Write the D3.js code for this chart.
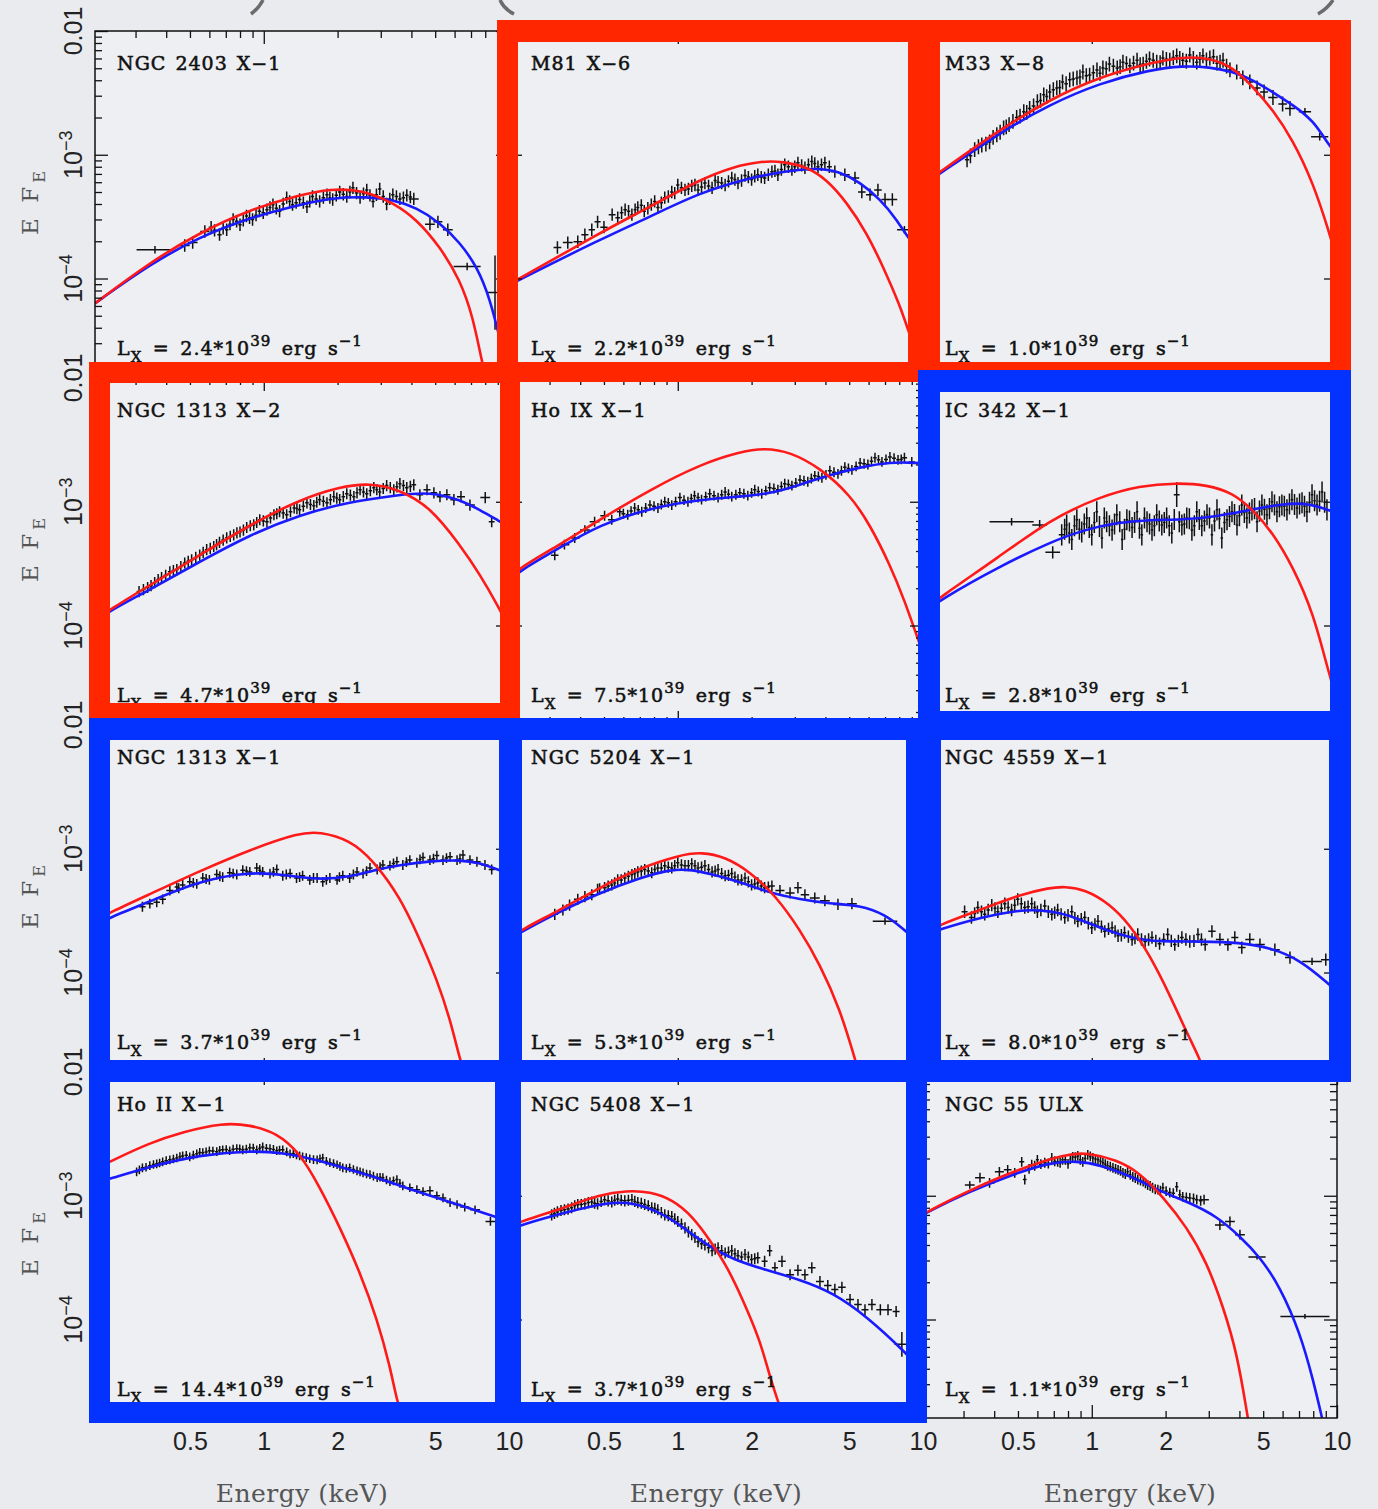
<!DOCTYPE html>
<html>
<head>
<meta charset="utf-8">
<script src="https://cdn.jsdelivr.net/npm/d3@7"></script>
<style>
  html, body { margin: 0; padding: 0; background: #e9ebee; }
  svg { display: block; }
</style>
</head>
<body>
<div id="chart"></div>
<script>
// Energy in keV, E F_E in units of 1e-4.
// data points: [E, F] or [E, F, xErrDex, yErrDex]

const panelNames = ['NGC 2403 X−1', 'M81 X−6', 'M33 X−8',
  'NGC 1313 X−2', 'Ho IX X−1', 'IC 342 X−1',
  'NGC 1313 X−1', 'NGC 5204 X−1', 'NGC 4559 X−1',
  'Ho II X−1', 'NGC 5408 X−1', 'NGC 55 ULX']
const luminosities = ['2.4', '2.2', '1.0', '4.7', '7.5', '2.8', '3.7', '5.3', '8.0', '14.4', '3.7', '1.1']

const xTickLabels = [0.5, 1, 2, 5, 10]
const xMajor = [1, 10]
const xMinor = [0.3, 0.4, 0.5, 0.6, 0.7, 0.8, 0.9, 2, 3, 4, 5, 6, 7, 8, 9]
const yMajor = [1e-4, 1e-3, 1e-2]

// ---- NGC 2403 X-1
const n2403Red = [[0.205,0.63],[0.343,1.35],[0.548,2.35],[0.877,3.6],[1.40,4.75],[1.91,5.3],[2.31,5.2],[2.71,4.9],[3.36,4.1],[4.21,3.0],[5.22,1.81],[6.31,0.98],[7.13,0.49],[7.76,0.21],[8.05,0.16]]
const n2403Blue = [[0.205,0.63],[0.343,1.30],[0.548,2.18],[0.877,3.1],[1.40,3.95],[1.91,4.5],[2.63,4.58],[3.36,4.33],[4.21,3.73],[5.22,2.83],[6.31,1.95],[7.40,1.25],[8.38,0.68],[9.2,0.32],[10,0.16]]
const n2403Data = [[0.36,1.71,0.075,0.03],[0.476,1.85],[0.513,1.95],[0.575,2.4],[0.61,2.6],[0.66,2.26],[0.706,2.48],[0.75,3.0],[0.80,2.72],[0.85,3.2],[0.90,3.0],[0.96,3.5],[1.03,3.6],[1.09,3.95],[1.16,3.5],[1.24,4.5],[1.31,3.95],[1.40,4.35],[1.50,3.8],[1.58,4.6],[1.69,4.2],[1.81,4.76],[1.91,4.35],[2.04,5.0],[2.18,4.6],[2.31,5.4],[2.47,4.5],[2.63,5.2],[2.79,4.2],[2.97,5.3],[3.17,4.0],[3.36,4.76],[3.59,4.4],[3.83,4.7],[4.09,4.4],[4.76,2.75],[5.13,2.87],[5.63,2.48],[6.75,1.25,0.055,0.03],[8.77,0.77,0.03,0.3],
  [0.63,2.45],[0.683,2.55],[0.728,2.75],[0.775,2.9],[0.825,2.95],[0.875,3.1],[0.93,3.25],[0.995,3.4],[1.06,3.75],[1.125,3.7],[1.2,4.0],[1.275,4.2],[1.355,4.1],[1.45,4.1],[1.54,4.2],[1.635,4.4],[1.75,4.5],[1.86,4.5],[1.975,4.7],[2.11,4.8],[2.245,5.0],[2.39,4.9],[2.55,4.85],[2.71,4.7],[2.88,4.75],[3.07,4.6],[3.265,4.4],[3.475,4.6],[3.71,4.5],[3.96,4.55]]

// ---- M81 X-6
const m81Red = [[0.205,0.90],[0.222,0.98],[0.48,2.33],[0.77,3.8],[1.23,6.3],[1.68,8.0],[2.22,8.9],[2.68,8.8],[3.36,8.0],[4.05,6.3],[4.9,4.1],[5.9,2.33],[6.87,1.25],[8.06,0.6],[8.6,0.41],[10,0.17]]
const m81Blue = [[0.205,0.88],[0.222,0.96],[0.48,2.06],[0.77,3.15],[1.23,4.95],[1.97,6.5],[2.68,7.3],[3.69,7.85],[4.58,7.3],[5.54,6.0],[6.7,4.35],[7.8,3.0],[8.6,2.2],[10,1.5]]
const m81Data = [[0.323,1.78],[0.356,1.95],[0.391,1.98],[0.418,2.26],[0.446,2.48],[0.471,2.87],[0.50,2.6],[0.54,3.28],[0.569,3.1],[0.61,3.6],[0.65,3.28],[0.687,3.75],[0.73,3.5],[0.78,3.95],[0.83,3.75],[0.885,4.5],[0.945,5.0],[1.0,5.7],[1.07,5.2],[1.14,5.6],[1.21,5.2],[1.29,5.9],[1.38,5.4],[1.46,6.0],[1.56,5.7],[1.66,6.5],[1.76,5.9],[1.88,6.8],[2.0,6.3],[2.12,6.9],[2.26,6.5],[2.42,7.3],[2.56,6.9],[2.73,8.3],[2.92,7.6],[3.09,8.6],[3.3,7.85],[3.52,8.8],[3.73,8.0],[3.98,8.6],[4.37,7.3],[4.8,6.9],[5.28,6.5],[5.63,5.0],[6.08,4.76],[6.55,5.2],[7.0,4.35],[7.5,4.35],[8.4,2.48,0.03,0.03],
  [0.59,3.4],[0.63,3.5],[0.67,3.6],[0.71,3.9],[0.755,3.7],[0.805,4.2],[0.857,4.1],[0.915,4.6],[0.972,4.9],[1.035,5.4],[1.105,5.3],[1.175,5.7],[1.25,5.5],[1.335,5.6],[1.42,6.2],[1.51,5.9],[1.61,6.1],[1.71,6.3],[1.82,6.2],[1.94,6.6],[2.06,6.7],[2.19,6.6],[2.34,6.9],[2.49,7.4],[2.645,7.6],[2.825,8.0],[3.0,8.0],[3.2,8.2],[3.41,8.3],[3.62,8.5],[3.855,8.3],[4.15,8.0]]

// ---- M33 X-8
const m33Red = [[0.205,5.8],[0.239,7.2],[0.42,15.9],[0.674,28],[1.08,42.6],[1.72,55],[2.35,62],[3.03,60.5],[3.76,51],[4.54,35.5],[5.48,23],[6.6,13.2],[8.0,5.9],[9.3,2.35],[10,1.4]]
const m33Blue = [[0.205,5.7],[0.239,7.0],[0.42,15],[0.674,25.5],[1.08,38],[1.72,48.5],[2.35,52.5],[3.03,51],[3.76,47],[4.54,40.3],[5.48,32],[6.6,25.3],[8.0,19],[9.3,11.8],[10,10]]
const m33Data = [[0.31,9.1],[0.333,11],[0.356,12],[0.383,12.7],[0.41,14.5],[0.437,16.5],[0.46,17.5],[0.494,20],[0.528,22.3],[0.558,23.7],[0.60,26.8],[0.637,30.5],[0.674,32.2],[0.72,34.7],[0.76,38.8],[0.813,40.3],[0.87,41.8],[0.92,46.6],[0.98,44],[1.05,48.5],[1.11,50.3],[1.18,54],[1.27,50.3],[1.34,56],[1.43,52.3],[1.53,58],[1.62,54],[1.72,59.4],[1.84,56],[1.95,60.5],[2.08,58],[2.22,63],[2.35,58],[2.51,64],[2.68,56],[2.84,63],[3.03,60.5],[3.24,55],[3.43,58],[3.66,48.5],[3.9,46.6],[4.13,41.8],[4.41,38.8],[4.72,34.7],[5.04,32.2],[5.48,29],[6.0,25.7],[6.43,23.7],[7.4,22.3,0.025,0.03],[8.5,14,0.035,0.03],
  [0.32,9.8],[0.345,11.6],[0.37,12.2],[0.396,13.8],[0.423,15.2],[0.448,16.8],[0.477,18.6],[0.51,20.5],[0.543,22.0],[0.579,24.8],[0.618,27.5],[0.655,29.5],[0.697,33.5],[0.74,35.0],[0.786,37.5],[0.84,41.0],[0.895,42.5],[0.95,43.5],[1.015,46],[1.08,45.5],[1.145,49.5],[1.225,52],[1.305,51.5],[1.385,54.5],[1.48,55],[1.575,53.5],[1.67,57],[1.78,58],[1.9,55.5],[2.015,59],[2.15,61],[2.285,60],[2.43,57],[2.595,60],[2.76,59],[2.935,58.5],[3.135,62],[3.335,56],[3.545,52]]

// ---- NGC 1313 X-2
const n1313x2Red = [[0.205,1.1],[0.235,1.34],[0.343,2.12],[0.548,3.7],[0.877,6.5],[1.40,10.4],[2.04,13.2],[2.71,14.2],[3.59,12.5],[4.76,9.1],[6.3,4.5],[7.6,2.6],[9.2,1.34],[10,0.95]]
const n1313x2Blue = [[0.205,1.08],[0.235,1.31],[0.343,1.95],[0.548,3.28],[0.877,5.4],[1.40,7.85],[2.24,10],[3.59,11.4],[4.76,12],[6.3,10.4],[7.6,8.6],[9.2,6.9],[10,6.3]]
const n1313x2Data = [[0.31,1.88],[0.336,2.03],[0.359,2.22],[0.383,2.44],[0.414,2.72],[0.442,2.83],[0.476,3.2],[0.508,3.4],[0.548,3.7],[0.585,4.1],[0.625,4.35],[0.66,4.7],[0.706,5.1],[0.754,5.4],[0.80,5.7],[0.852,6.2],[0.91,6.5],[0.963,7.15],[1.03,6.9],[1.10,7.85],[1.16,8.3],[1.24,7.85],[1.33,8.9],[1.40,8.6],[1.50,9.8],[1.60,9.3],[1.69,10.4],[1.81,9.8],[1.93,11],[2.04,10.4],[2.18,11.6],[2.33,11],[2.47,12.5],[2.63,11.6],[2.81,13],[2.97,12],[3.17,13.5],[3.39,12.5],[3.59,14],[3.83,13],[4.09,13.7],[4.33,11.4],[4.63,12.5],[4.94,11.8],[5.23,11],[5.58,11.4],[5.96,10.4],[6.37,11],[6.93,9.4],[8.0,10.8],[8.5,6.9],
  [0.323,1.95],[0.347,2.1],[0.371,2.35],[0.398,2.55],[0.428,2.78],[0.459,3.0],[0.492,3.3],[0.528,3.55],[0.566,3.9],[0.605,4.2],[0.642,4.5],[0.683,4.9],[0.73,5.25],[0.777,5.6],[0.826,5.9],[0.881,6.4],[0.936,6.8],[0.996,7.0],[1.065,7.4],[1.13,8.0],[1.2,8.1],[1.285,8.3],[1.365,8.8],[1.45,9.2],[1.55,9.5],[1.645,9.9],[1.75,10.1],[1.87,10.4],[1.985,10.7],[2.11,11.0],[2.255,11.3],[2.4,11.8],[2.55,12.0],[2.72,12.3],[2.89,12.5],[3.07,12.8],[3.28,13.0],[3.49,13.2],[3.71,13.5],[3.96,13.3]]

// ---- Ho IX X-1
const hoixRed = [[0.205,2.4],[0.228,2.95],[0.33,4.5],[0.48,7.15],[0.77,12.5],[1.23,20],[1.79,25.3],[2.26,27.2],[2.87,25.3],[3.80,18.8],[5.04,11.4],[6.08,6.5],[7.33,3.1],[8.4,1.6],[9.55,0.77],[10,0.6]]
const hoixBlue = [[0.205,2.3],[0.228,2.78],[0.33,4.25],[0.48,6.5],[0.77,8.9],[1.23,10.4],[1.79,11],[2.37,11.6],[3.15,13.7],[4.17,16.5],[5.54,19],[7.33,21],[9.55,20.6],[10,20.3]]
const hoixData = [[0.315,3.7],[0.345,4.5],[0.38,5.1],[0.418,5.9],[0.458,6.9],[0.503,7.7],[0.538,7.15],[0.58,8.3],[0.625,7.85],[0.667,8.9],[0.713,8.3],[0.77,9.4],[0.83,8.9],[0.885,10],[0.945,9.4],[1.02,10.8],[1.10,10],[1.17,11.2],[1.25,10.4],[1.35,11.6],[1.46,10.8],[1.56,12],[1.66,11],[1.79,11.8],[1.93,11.2],[2.06,12.5],[2.2,11.6],[2.37,13],[2.56,12.5],[2.73,14],[2.92,13.5],[3.15,15],[3.39,14.5],[3.62,16.2],[3.87,15.6],[4.17,17.8],[4.5,16.8],[4.8,19],[5.13,18.1],[5.54,20.6],[5.96,20],[6.37,22.7],[6.8,21],[7.33,23],[7.91,21.8],[8.4,22.7],[9.0,21],
  [0.6,8.0],[0.645,8.4],[0.69,8.6],[0.74,8.9],[0.8,9.2],[0.857,9.5],[0.915,9.8],[0.98,10.0],[1.06,10.3],[1.135,10.6],[1.21,10.8],[1.3,11.0],[1.405,11.2],[1.51,11.4],[1.61,11.5],[1.725,11.4],[1.86,11.6],[2.0,11.8],[2.13,12.1],[2.285,12.3],[2.465,12.8],[2.645,13.3],[2.825,13.8],[3.03,14.2],[3.27,14.8],[3.505,15.4],[3.745,16.0],[4.02,16.5],[4.335,17.3],[4.65,17.8],[4.965,18.6],[5.335,19.3],[5.75,20.3],[6.165,21.2],[6.585,21.8],[7.065,22.0],[7.62,22.5],[8.15,22.0]]

// ---- IC 342 X-1
const ic342Red = [[0.205,1.3],[0.239,1.68],[0.42,3.6],[0.674,7.15],[1.08,11],[1.57,13.5],[2.22,14.2],[2.95,13.7],[3.76,11.8],[4.54,8.6],[5.48,5.6],[6.6,3.0],[8.0,1.27],[9.2,0.43],[10,0.25]]
const ic342Blue = [[0.205,1.25],[0.239,1.6],[0.42,3.0],[0.674,4.7],[0.92,5.9],[1.27,6.8],[1.72,7.15],[2.35,7.15],[3.24,7.6],[4.41,8.6],[6.0,9.6],[7.54,9.8],[9.2,8.6],[10,8.0]]
const ic342Data = [[0.471,6.9,0.09,0.03],[0.613,6.5,0.03,0.04],[0.693,3.9,0.03,0.05],[0.754,5.4],[0.79,6.5],[0.829,4.95],[0.869,7.15],[0.91,5.7],[0.954,7.4],[1.0,5.4],[1.048,8.3],[1.10,5.1],[1.15,6.9],[1.21,5.9],[1.265,7.85],[1.33,4.95],[1.39,7.15],[1.46,6.2],[1.53,8.3],[1.60,5.4],[1.68,6.9],[1.76,5.9],[1.84,7.85],[1.93,6.5],[2.02,7.4],[2.12,5.6],[2.22,11.4,0.012,0.1],[2.33,6.5],[2.44,7.4],[2.56,5.9],[2.68,8.3],[2.81,6.4],[2.95,7.85],[3.09,5.4],[3.24,8.6],[3.39,5.1],[3.56,7.15],[3.73,8.3],[3.91,6.5],[4.09,9.4],[4.29,7.4],[4.5,8.6],[4.72,6.9],[4.94,9.4],[5.18,7.85],[5.43,10],[5.69,8.3],[5.96,9.4],[6.25,8.6],[6.55,10.4],[6.87,8.9],[7.2,9.8],[7.54,8.3],[7.91,11.4],[8.29,9.4],[8.69,12],[9.1,8.6],
  [0.775,6.0],[0.81,5.6],[0.85,6.4],[0.89,6.0],[0.932,6.6],[0.977,6.2],[1.024,6.8],[1.075,6.3],[1.125,7.4],[1.18,6.4],[1.238,6.6],[1.3,6.9],[1.36,6.0],[1.425,7.0],[1.495,6.8],[1.565,6.1],[1.64,7.4],[1.72,6.6],[1.8,6.4],[1.885,7.0],[1.975,6.8],[2.07,6.4],[2.17,7.2],[2.275,6.9],[2.385,6.6],[2.5,7.3],[2.62,6.4],[2.745,7.2],[2.88,7.0],[3.02,7.4],[3.165,7.0],[3.315,7.3],[3.475,6.8],[3.645,7.6],[3.82,7.9],[4.0,7.7],[4.19,8.2],[4.395,8.1],[4.61,8.8],[4.83,8.4],[5.06,8.7],[5.305,8.8],[5.56,9.4],[5.825,9.1],[6.1,9.2],[6.4,9.6],[6.71,9.5],[7.035,9.6],[7.37,9.2],[7.725,9.9],[8.1,10.2],[8.49,10.1],[8.9,9.9]]

// ---- NGC 1313 X-1
const n1313x1Red = [[0.205,2.6],[0.235,3.05],[0.343,4.3],[0.548,6.6],[0.877,9.8],[1.40,13.5],[1.69,13.7],[2.24,11.8],[2.79,8.1],[3.59,4.1],[4.33,1.85],[5.08,0.88],[5.75,0.42],[6.3,0.2],[6.6,0.15]]
const n1313x1Blue = [[0.205,2.4],[0.235,2.78],[0.343,3.75],[0.548,5.5],[0.877,6.5],[1.195,6.2],[1.65,5.6],[2.24,5.9],[2.9,6.8],[3.59,7.4],[4.9,8.0],[6.3,8.1],[7.6,7.7],[8.6,7.0],[10,6.3]]
const n1313x1Data = [[0.32,3.4],[0.343,3.6],[0.366,3.7],[0.387,3.9],[0.414,4.6],[0.442,4.9],[0.467,5.1],[0.499,5.4],[0.533,5.2],[0.564,5.8],[0.60,5.6],[0.643,6.2],[0.68,5.9],[0.726,6.4],[0.776,6.2],[0.821,6.7],[0.877,6.5],[0.936,7.0],[0.99,6.5],[1.06,6.3],[1.13,6.8],[1.195,6.05],[1.28,6.3],[1.36,5.8],[1.44,6.05],[1.54,5.6],[1.65,5.8],[1.74,5.4],[1.86,5.8],[1.99,5.6],[2.10,6.05],[2.24,5.8],[2.4,6.5],[2.54,6.3],[2.71,7.0],[2.9,6.8],[3.06,7.4],[3.27,7.3],[3.49,7.85],[3.69,7.4],[3.94,8.1],[4.21,7.7],[4.46,8.5],[4.76,8.1],[5.08,8.8],[5.38,8.1],[5.75,8.6],[6.14,8.1],[6.49,8.9],[6.93,8.1],[7.4,7.85],[7.98,7.4],[8.5,6.8],
  [0.45,4.8],[0.516,5.3],[0.582,5.7],[0.662,6.0],[0.75,6.3],[0.85,6.6],[0.963,6.7],[1.095,6.5],[1.235,6.2],[1.4,5.9],[1.595,5.8],[1.8,5.6],[2.035,5.9],[2.32,6.2],[2.625,6.6],[2.98,7.1],[3.38,7.6],[3.815,7.8],[4.335,8.2],[4.92,8.3],[5.56,8.4],[6.31,8.3]]

// ---- NGC 5204 X-1
const n5204Red = [[0.205,1.9],[0.231,2.22],[0.33,3.2],[0.48,4.85],[0.70,7.0],[1.02,8.9],[1.25,9.4],[1.56,8.6],[1.97,6.5],[2.49,4.25],[3.15,2.22],[3.80,1.16],[4.58,0.51],[5.28,0.2],[5.5,0.15]]
const n5204Blue = [[0.205,1.85],[0.231,2.14],[0.33,3.1],[0.48,4.4],[0.70,5.8],[0.928,6.8],[1.12,6.8],[1.35,6.3],[1.79,5.4],[2.37,4.4],[3.15,3.9],[4.17,3.6],[5.54,3.5],[7.0,2.95],[8.4,2.22],[10,1.6]]
const n5204Data = [[0.315,2.95],[0.34,3.2],[0.362,3.5],[0.391,3.9],[0.418,4.1],[0.446,4.25],[0.471,4.7],[0.503,4.85],[0.538,5.1],[0.569,5.6],[0.608,5.8],[0.65,6.2],[0.687,6.5],[0.733,6.8],[0.783,6.4],[0.829,7.0],[0.885,7.3],[0.945,7.0],[1.0,7.7],[1.07,7.3],[1.14,7.55],[1.21,7.0],[1.29,7.3],[1.38,6.5],[1.46,6.8],[1.56,6.05],[1.66,6.3],[1.76,5.6],[1.88,5.8],[2.0,5.1],[2.12,5.3],[2.26,4.85],[2.42,5.0],[2.61,4.6],[2.87,4.4],[3.09,4.85],[3.3,4.25],[3.62,4.0],[3.98,3.8],[4.5,3.55],[5.13,3.6],[7.0,2.6,0.05,0.03],
  [0.48,4.75],[0.52,5.0],[0.553,5.3],[0.588,5.6],[0.629,6.0],[0.668,6.3],[0.71,6.6],[0.758,6.6],[0.806,6.8],[0.857,7.0],[0.915,7.1],[0.972,7.3],[1.035,7.4],[1.105,7.3],[1.175,7.3],[1.25,7.1],[1.335,6.8],[1.42,6.6],[1.51,6.3],[1.61,6.1],[1.71,5.9],[1.82,5.6],[1.94,5.4],[2.06,5.2],[2.19,5.0],[2.34,4.9]]

// ---- NGC 4559 X-1
const n4559Red = [[0.205,2.05],[0.239,2.43],[0.35,3.2],[0.508,4.25],[0.674,4.85],[0.776,4.95],[0.936,4.7],[1.18,3.6],[1.43,2.43],[1.72,1.39],[2.08,0.66],[2.4,0.35],[2.76,0.2],[2.9,0.15]]
const n4559Blue = [[0.205,2.0],[0.239,2.22],[0.35,2.78],[0.508,3.2],[0.613,3.2],[0.74,3.05],[0.894,2.68],[1.08,2.3],[1.30,2.03],[1.57,1.85],[1.89,1.78],[2.76,1.78],[4.02,1.75],[5.33,1.59],[7.07,1.27],[9.3,0.8],[10,0.7]]
const n4559Data = [[0.303,3.1],[0.323,2.78],[0.343,3.35],[0.366,2.95],[0.391,3.5],[0.414,3.1],[0.442,3.6],[0.471,3.2],[0.499,3.9],[0.533,3.35],[0.569,3.6],[0.60,3.1],[0.643,3.45],[0.687,2.95],[0.726,3.2],[0.776,2.78],[0.829,3.1],[0.877,2.6],[0.936,2.78],[1.0,2.3],[1.06,2.6],[1.13,2.15],[1.21,2.3],[1.28,1.98],[1.36,2.1],[1.46,1.85],[1.54,2.03],[1.65,1.78],[1.76,1.92],[1.89,1.71],[2.04,2.03],[2.18,1.68],[2.33,1.92],[2.51,1.78],[2.71,2.03],[2.9,1.68],[3.09,2.15],[3.33,1.85],[3.59,1.68],[3.83,1.92],[4.09,1.59],[4.41,1.85],[4.85,1.68],[5.58,1.53],[6.43,1.32],[7.91,1.23,0.04,0.03],[9.0,1.27],
  [0.333,3.0],[0.355,3.1],[0.378,3.2],[0.403,3.3],[0.428,3.3],[0.456,3.35],[0.485,3.5],[0.516,3.6],[0.55,3.4],[0.585,3.35],[0.62,3.2],[0.665,3.1],[0.706,3.05],[0.75,2.95],[0.8,2.9],[0.853,2.75],[0.906,2.7],[0.968,2.5],[1.03,2.45],[1.095,2.35],[1.17,2.25],[1.245,2.15],[1.32,2.0],[1.41,1.95],[1.5,1.9],[1.595,1.85],[1.705,1.85],[1.825,1.8],[1.965,1.85],[2.11,1.8],[2.255,1.8],[2.42,1.85],[2.61,1.8],[2.8,1.85]]

// ---- Ho II X-1
const hoiiRed = [[0.205,16.5],[0.235,18.8],[0.343,26.8],[0.467,32.8],[0.68,38.8],[0.877,37.4],[1.13,32.2],[1.40,22.3],[1.69,11.8],[2.04,5.6],[2.47,2.4],[2.9,1.0],[3.27,0.42],[3.49,0.22],[3.69,0.16]]
const hoiiBlue = [[0.205,12.7],[0.235,13.7],[0.343,17.2],[0.548,21.4],[0.877,23.1],[1.195,22.3],[1.65,19.5],[2.24,16.2],[3.06,13.5],[4.21,10.8],[5.75,8.9],[8.77,6.8],[10,6.2]]
const hoiiData = [[0.303,15.6],[0.32,16.8],[0.343,17.5],[0.366,18.1],[0.387,18.8],[0.414,19.5],[0.442,20.2],[0.467,21.0],[0.499,20.6],[0.533,21.8],[0.564,22.3],[0.60,23.1],[0.643,22.7],[0.68,23.5],[0.726,23.1],[0.776,24.0],[0.821,23.5],[0.877,24.4],[0.936,23.5],[0.99,24.8],[1.06,24.0],[1.13,23.1],[1.195,23.5],[1.28,21.8],[1.36,21.4],[1.44,20.6],[1.54,19.9],[1.65,19.5],[1.74,20.2],[1.86,18.5],[1.99,17.8],[2.10,16.8],[2.24,16.8],[2.4,15.9],[2.54,15.3],[2.71,14.8],[2.9,14.0],[3.06,14.0],[3.27,13.0],[3.49,13.5],[3.69,12.0],[3.94,11.6],[4.21,11.2],[4.46,10.8],[4.76,11.0],[5.08,10],[5.38,9.6],[5.75,8.8],[6.14,8.5],[6.6,8.1],[7.27,7.7],[8.4,6.2],
  [0.311,16.2],[0.331,17.0],[0.355,17.9],[0.376,18.4],[0.40,19.2],[0.428,19.8],[0.455,20.7],[0.483,21.2],[0.516,21.3],[0.548,22.4],[0.582,22.6],[0.62,23.0],[0.661,23.3],[0.703,23.6],[0.75,23.8],[0.798,23.9],[0.849,23.8],[0.906,24.3],[0.963,24.2],[1.025,24.2],[1.095,23.7],[1.16,23.4],[1.24,22.6],[1.32,21.9],[1.40,21.0],[1.49,20.3],[1.595,19.6],[1.695,19.9],[1.80,19.0],[1.925,18.2],[2.045,17.3],[2.17,16.6],[2.32,16.3],[2.47,15.6],[2.625,15.0],[2.8,14.4],[2.98,14.1],[3.165,13.4],[3.38,13.2],[3.59,12.6]]

// ---- NGC 5408 X-1
const n5408Red = [[0.205,5.6],[0.228,6.2],[0.352,8.1],[0.48,10.2],[0.619,11],[0.77,10.8],[0.954,9.3],[1.15,6.8],[1.35,4.4],[1.59,2.68],[1.84,1.45],[2.16,0.69],[2.37,0.35],[2.56,0.22],[2.7,0.16]]
const n5408Blue = [[0.205,5.3],[0.228,5.8],[0.352,7.4],[0.528,8.9],[0.655,8.8],[0.844,7.4],[1.048,5.6],[1.31,4.0],[1.68,3.05],[2.31,2.5],[3.15,2.1],[4.29,1.65],[5.9,1.06],[8.5,0.54],[10,0.38]]
const n5408Data = [[0.306,7.0],[0.323,7.4],[0.345,7.7],[0.369,8.0],[0.391,8.5],[0.418,8.6],[0.446,8.9],[0.471,8.6],[0.503,9.3],[0.538,8.9],[0.569,9.4],[0.608,9.1],[0.65,9.3],[0.687,8.8],[0.733,8.5],[0.783,8.0],[0.829,7.7],[0.885,7.0],[0.945,6.8],[1.0,6.2],[1.07,5.5],[1.14,4.85],[1.21,4.25],[1.29,4.0],[1.38,3.6],[1.46,3.8],[1.56,3.45],[1.66,3.6],[1.76,3.28],[1.88,3.35],[2.0,3.05],[2.12,3.15],[2.26,2.95],[2.37,3.6],[2.49,2.62],[2.66,2.95],[2.87,2.3],[3.09,2.5],[3.3,2.3],[3.52,2.62],[3.8,2.03],[4.09,1.88],[4.37,1.75],[4.67,1.82],[5.04,1.45],[5.43,1.32],[5.8,1.2],[6.19,1.32],[6.7,1.2],[7.2,1.2],[7.77,1.16],[8.2,0.63,0.03,0.1],
  [0.314,7.2],[0.334,7.6],[0.357,7.8],[0.38,8.3],[0.404,8.5],[0.432,8.8],[0.458,8.7],[0.487,9.0],[0.52,9.1],[0.553,9.2],[0.588,9.2],[0.629,9.2],[0.668,9.0],[0.71,8.7],[0.758,8.3],[0.806,7.9],[0.857,7.3],[0.915,6.9],[0.972,6.5],[1.035,5.9],[1.105,5.1],[1.175,4.6],[1.25,4.1],[1.335,3.8],[1.42,3.7],[1.51,3.6],[1.61,3.5],[1.71,3.4],[1.82,3.2],[1.94,3.2],[2.06,3.1]]

// ---- NGC 55 ULX
const n55Red = [[0.205,7.0],[0.212,7.4],[0.309,10.8],[0.494,16.2],[0.79,21.8],[0.954,22.3],[1.265,19.5],[1.57,15.3],[1.95,9.8],[2.44,5.6],[2.95,2.87],[3.43,1.27],[3.91,0.54],[4.33,0.16]]
const n55Blue = [[0.205,7.0],[0.212,7.3],[0.309,10.6],[0.494,15.3],[0.674,18.5],[0.869,19.1],[1.08,17.8],[1.47,14.2],[1.95,10.6],[2.51,8.8],[3.24,6.8],[4.02,4.7],[4.85,3.2],[5.85,1.85],[7.07,0.78],[7.98,0.33],[8.69,0.16]]
const n55Data = [[0.318,12.2,0.02,0.03],[0.35,14.0],[0.383,12.7],[0.42,15.6],[0.454,16.2],[0.485,15.3],[0.518,18.8],[0.533,13.5],[0.569,17.8],[0.60,19.5],[0.643,18.5],[0.687,20.2],[0.726,18.8],[0.76,19.5],[0.80,18.1],[0.836,20.6],[0.877,21.0],[0.919,18.8],[0.963,21.4],[1.01,20.2],[1.06,19.5],[1.11,18.5],[1.16,17.5],[1.22,16.8],[1.28,16.2],[1.34,15.3],[1.40,15.6],[1.47,14.2],[1.54,13.5],[1.62,13.0],[1.69,12.2],[1.77,11.6],[1.86,11.2],[1.95,11.6],[2.08,10.6],[2.22,11.8],[2.35,9.8],[2.51,9.6],[2.68,9.3],[2.87,9.3],[3.33,5.8],[3.66,6.2],[4.02,4.85],[4.72,3.2,0.035,0.02],[7.4,1.06,0.1,0.02],
  [0.555,16.5],[0.585,17.5],[0.62,18.0],[0.665,18.2],[0.706,19.0],[0.743,18.5],[0.78,19.5],[0.818,19.8],[0.857,20.5],[0.898,19.5],[0.94,20.0],[0.986,20.8],[1.035,19.8],[1.085,19.0],[1.135,18.0],[1.19,17.2],[1.25,16.5],[1.31,15.9],[1.37,15.0],[1.435,14.8],[1.505,13.9],[1.58,13.3],[1.655,12.6],[1.73,12.0],[1.815,11.3],[1.905,11.0],[2.01,10.9],[2.15,10.5],[2.285,10.2],[2.43,9.7],[2.6,9.5],[2.78,9.1]]

const reds = [n2403Red, m81Red, m33Red, n1313x2Red, hoixRed, ic342Red, n1313x1Red, n5204Red, n4559Red, hoiiRed, n5408Red, n55Red]
const blues = [n2403Blue, m81Blue, m33Blue, n1313x2Blue, hoixBlue, ic342Blue, n1313x1Blue, n5204Blue, n4559Blue, hoiiBlue, n5408Blue, n55Blue]
const spectra = [n2403Data, m81Data, m33Data, n1313x2Data, hoixData, ic342Data, n1313x1Data, n5204Data, n4559Data, hoiiData, n5408Data, n55Data]
const yErrDefault = [0.05, 0.05, 0.06, 0.045, 0.04, 0.085, 0.04, 0.045, 0.05, 0.035, 0.045, 0.04]

// layout
const W = 1378, H = 1509
const colX = [95, 509, 923]
const rowY = [31, 378, 725, 1072]
const pw = 414, ph = 346
const red = '#ff2600', blue = '#0433ff'

const svg = d3.select('#chart').append('svg')
  .attr('width', W).attr('height', H)
  .style('font-family', 'DejaVu Serif')

svg.append('rect').attr('width', W).attr('height', H).attr('fill', '#e9ebee')

const defs = svg.append('defs')
const yMinor = []
;[1e-5, 1e-4, 1e-3].forEach(d => { for (let k = 2; k < 10; k++) yMinor.push(k * d) })

function tickAxes(g, x, y) {
  const [xa, xb] = x.range(), [yb, ya] = y.range()
  const sides = [
    [() => d3.axisBottom(x), `translate(0,${yb})`, xMajor, xMinor],
    [() => d3.axisTop(x), `translate(0,${ya})`, xMajor, xMinor],
    [() => d3.axisLeft(y), `translate(${xa},0)`, yMajor, yMinor],
    [() => d3.axisRight(y), `translate(${xb},0)`, yMajor, yMinor]
  ]
  sides.forEach(([mk, tr, major, minor]) => {
    ;[[major, 13], [minor, 7]].forEach(([vals, len]) => {
      g.append('g')
        .attr('transform', tr)
        .call(mk().tickValues(vals).tickSize(-len).tickFormat(''))
        .call(s => s.select('.domain').remove())
        .selectAll('line').attr('stroke', '#111').attr('stroke-width', 1.3)
    })
  })
  g.append('rect')
    .attr('x', xa).attr('y', ya).attr('width', xb - xa).attr('height', yb - ya)
    .attr('fill', 'none').attr('stroke', '#111').attr('stroke-width', 1.5)
}

panelNames.forEach((name, i) => {
  const r = Math.floor(i / 3), c = i % 3
  const x0 = colX[c], y0 = rowY[r]
  const x = d3.scaleLog().domain([0.205, 10]).range([x0, x0 + pw])
  const y = d3.scaleLog().domain([1.6e-5, 1e-2]).range([y0 + ph, y0])
  const fy = f => y(f * 1e-4)

  const g = svg.append('g').attr('class', 'panel')
  g.append('rect').attr('x', x0).attr('y', y0).attr('width', pw).attr('height', ph)
    .attr('fill', '#edeff2')

  defs.append('clipPath').attr('id', 'clip' + i)
    .append('rect').attr('x', x0).attr('y', y0).attr('width', pw).attr('height', ph)

  const inner = g.append('g').attr('clip-path', `url(#clip${i})`)

  // spectral bins touch their neighbours unless a width is given
  const pts = d3.sort(spectra[i], d => d[0])
  const lg = Math.log10
  inner.append('g').selectAll('path')
    .data(pts)
    .join('path')
    .attr('d', (d, j) => {
      const prev = pts[j - 1] ? pts[j - 1][0] : d[0] / 1.05
      const next = pts[j + 1] ? pts[j + 1][0] : d[0] * 1.05
      const half = Math.min(0.02, (lg(next) - lg(prev)) / 4)
      const [e, f, xe = half, ye = yErrDefault[i]] = d
      const cx = x(e), cy = fy(f)
      return `M${x(e / 10 ** xe)},${cy}H${x(e * 10 ** xe)}M${cx},${fy(f / 10 ** ye)}V${fy(f * 10 ** ye)}`
    })
    .attr('stroke', '#111').attr('stroke-width', 1.5).attr('fill', 'none')

  const line = d3.line().x(d => x(d[0])).y(d => fy(d[1])).curve(d3.curveBasis)

  inner.append('path').datum(blues[i]).attr('d', line)
    .attr('fill', 'none').attr('stroke', '#1a1aff').attr('stroke-width', 2.6)
  inner.append('path').datum(reds[i]).attr('d', line)
    .attr('fill', 'none').attr('stroke', '#ff1a1a').attr('stroke-width', 2.6)

  tickAxes(g, x, y)

  // labels
  g.append('text').attr('x', x0 + 22).attr('y', y0 + 39)
    .attr('font-size', 19).attr('letter-spacing', 1).attr('word-spacing', 2).attr('fill', '#111')
    .attr('stroke', '#111').attr('stroke-width', 0.55)
    .text(name)

  const t = g.append('text').attr('x', x0 + 22).attr('y', y0 + 324)
    .attr('font-size', 19).attr('letter-spacing', 1).attr('word-spacing', 3.5).attr('fill', '#111')
    .attr('stroke', '#111').attr('stroke-width', 0.55)
  t.append('tspan').text('L')
  t.append('tspan').attr('dy', 7).attr('font-size', 15).text('X')
  t.append('tspan').attr('dy', -7).text(` = ${luminosities[i]}*10`)
  t.append('tspan').attr('dy', -9).attr('font-size', 15).text('39')
  t.append('tspan').attr('dy', 9).text(' erg s')
  t.append('tspan').attr('dy', -9).attr('font-size', 15).text('−1')

  // y tick labels for the left column
  if (c === 0) {
    const lab = (val, main, sup) => {
      const tt = svg.append('text')
        .attr('transform', `translate(82,${y(val)}) rotate(-90)`)
        .attr('text-anchor', 'middle')
        .style('font-family', 'Liberation Sans').attr('font-size', 25).attr('fill', '#222')
      tt.append('tspan').text(main)
      if (sup) tt.append('tspan').attr('dy', -10).attr('font-size', 18).text(sup)
    }
    lab(1e-2, '0.01')
    lab(1e-3, '10', '−3')
    lab(1e-4, '10', '−4')

    const et = svg.append('text')
      .attr('transform', `translate(38,${y0 + 170}) rotate(-90)`)
      .attr('text-anchor', 'middle')
      .attr('font-size', 23).attr('letter-spacing', 4).attr('fill', '#555')
    et.append('tspan').text('E F')
    et.append('tspan').attr('dy', 7).attr('font-size', 16).text('E')
  }

  // x tick labels for the bottom row
  if (r === 3) {
    svg.append('g')
      .attr('transform', `translate(0,${y0 + ph})`)
      .call(d3.axisBottom(x).tickValues(xTickLabels).tickSize(0).tickPadding(14).tickFormat(d3.format('')))
      .call(s => s.select('.domain').remove())
      .selectAll('text')
      .attr('font-size', 25).attr('font-family', 'Liberation Sans').attr('fill', '#222')

    svg.append('text')
      .attr('x', x0 + pw / 2).attr('y', 1502)
      .attr('text-anchor', 'middle')
      .attr('font-size', 25).attr('fill', '#555').attr('letter-spacing', 0.5)
      .text('Energy (keV)')
  }
})

// highlight frames drawn over the figure
const frames = [
  { color: red, outer: [497, 20, 1351, 382], holes: [[518, 42, 908, 362], [940, 42, 1330, 362]] },
  { color: red, outer: [89, 362, 520, 718], holes: [[110, 383, 500, 703]] },
  { color: blue, outer: [918, 370, 1351, 740], holes: [[940, 392, 1330, 711]] },
  { color: blue, outer: [89, 718, 1351, 1082], holes: [[110, 740, 499, 1060], [522, 740, 906, 1060], [941, 740, 1329, 1060]] },
  { color: blue, outer: [89, 1060, 927, 1423], holes: [[110, 1082, 495, 1402], [521, 1082, 906, 1402]] }
]
const rectPath = ([a, b, c, d]) => `M${a},${b}H${c}V${d}H${a}Z`

svg.append('g').selectAll('path')
  .data(frames)
  .join('path')
  .attr('d', f => rectPath(f.outer) + f.holes.map(rectPath).join(''))
  .attr('fill', f => f.color)
  .attr('fill-rule', 'evenodd')

// bracket fragments at the top edge
svg.append('g').selectAll('path')
  .data(['M263,0 Q259,8 251,14', 'M500,0 Q504,9 514,14', 'M1333,0 Q1328,8 1318,14'])
  .join('path')
  .attr('d', d => d)
  .attr('fill', 'none').attr('stroke', '#6b6b6b').attr('stroke-width', 3.5)
</script>
</body>
</html>
